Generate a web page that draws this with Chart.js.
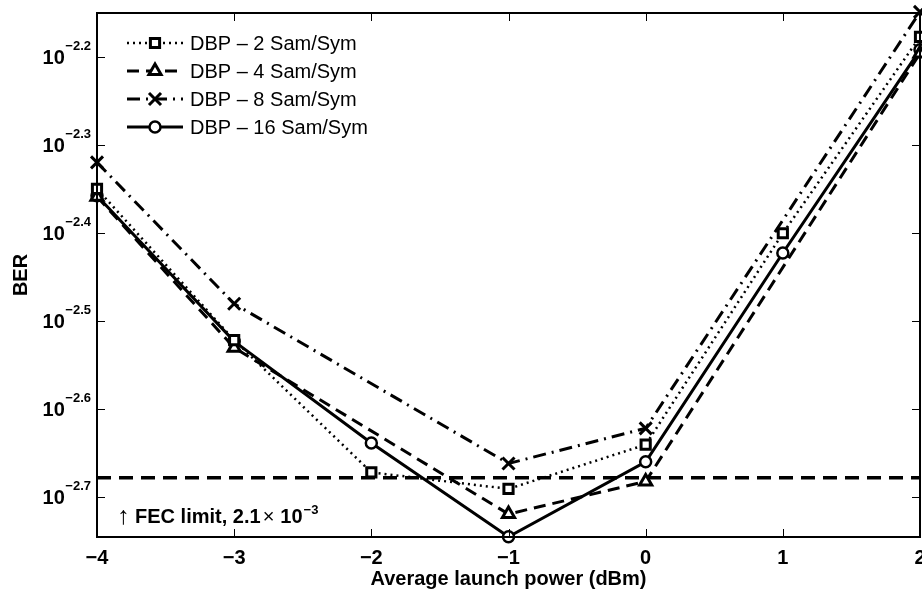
<!DOCTYPE html>
<html>
<head>
<meta charset="utf-8">
<script src="https://cdn.jsdelivr.net/npm/chart.js@4/dist/chart.umd.min.js"></script>
<style>
  body { margin: 0; background: #fff; }
  canvas { display: block; }
</style>
</head>
<body>
<canvas id="berChart" width="922" height="595"></canvas>
<script>
// launch power (dBm)
var powers = [-4, -3, -2, -1, 0, 1, 2];

// BER per DBP sampling rate (null = not measured)
var ber2Sam  = [4.47e-3, 3.01e-3, 2.13e-3, 2.04e-3, 2.29e-3, 3.98e-3, 6.65e-3];
var ber4Sam  = [4.38e-3, 2.95e-3, null,    1.91e-3, 2.08e-3, null,    6.37e-3];
var ber8Sam  = [4.79e-3, 3.31e-3, null,    2.18e-3, 2.39e-3, null,    7.10e-3];
var ber16Sam = [4.39e-3, 3.00e-3, 2.30e-3, 1.80e-3, 2.19e-3, 3.78e-3, 6.43e-3];

var seriesNames = ["DBP \u2013 2 Sam/Sym", "DBP \u2013 4 Sam/Sym", "DBP \u2013 8 Sam/Sym", "DBP \u2013 16 Sam/Sym"];

var fecLimit = 2.1e-3;

// axis ticks
var xTicks = [-4, -3, -2, -1, 0, 1, 2];
var yTickExps = [-2.2, -2.3, -2.4, -2.5, -2.6, -2.7];
var yMinExp = -2.745;
var yMaxExp = -2.15;

var BOLD = 'bold 20px "Liberation Sans", Arial, sans-serif';
var REG = '20px "Liberation Sans", Arial, sans-serif';
var SUP = 'bold 13px "Liberation Sans", Arial, sans-serif';

function toPoints(arr) {
	return powers.map(function(p, i){ return { x: p, y: arr[i] }; });
}

function lineSet(label, arr, style) {
	return Object.assign({
		label: label,
		data: toPoints(arr),
		borderColor: "#000",
		pointBorderColor: "#000",
		pointBackgroundColor: "#fff",
		spanGaps: true,
		clip: false,
		fill: false,
		tension: 0
	}, style);
}

var datasets = [
	lineSet(seriesNames[0], ber2Sam,  { borderWidth: 2.5, borderDash: [2, 4], pointStyle: "rect",     pointRadius: 6.5, pointBorderWidth: 3 }),
	lineSet(seriesNames[1], ber4Sam,  { borderWidth: 3, borderDash: [12, 7],  pointStyle: "triangle", pointRadius: 7,   pointBorderWidth: 3 }),
	lineSet(seriesNames[2], ber8Sam,  { borderWidth: 3, borderDash: [13, 6, 2, 6], pointStyle: "crossRot", pointRadius: 8.5, pointBorderWidth: 3 }),
	lineSet(seriesNames[3], ber16Sam, { borderWidth: 3, borderDash: [],       pointStyle: "circle",   pointRadius: 5.5, pointBorderWidth: 2.5 }),
	{
		label: "FEC",
		data: [{ x: powers[0], y: fecLimit }, { x: powers[powers.length - 1], y: fecLimit }],
		borderColor: "#000",
		borderWidth: 3.5,
		borderDash: [14, 8],
		pointRadius: 0,
		clip: false,
		fill: false
	}
];

// box, inward ticks, tick labels, titles, legend and the FEC note
var matlabAxes = {
	id: "matlabAxes",
	afterDatasetsDraw: function(chart) {
		var ctx = chart.ctx;
		var a = chart.chartArea;
		var xs = chart.scales.x;
		var ys = chart.scales.y;
		ctx.save();
		ctx.setLineDash([]);
		ctx.strokeStyle = "#000";
		ctx.fillStyle = "#000";

		// tick marks
		ctx.lineWidth = 1;
		ctx.beginPath();
		xTicks.forEach(function(t){
			var px = Math.round(xs.getPixelForValue(t)) + 0.5;
			ctx.moveTo(px, a.bottom); ctx.lineTo(px, a.bottom - 8);
			ctx.moveTo(px, a.top); ctx.lineTo(px, a.top + 8);
		});
		yTickExps.forEach(function(e){
			var py = Math.round(ys.getPixelForValue(Math.pow(10, e))) + 0.5;
			ctx.moveTo(a.left, py); ctx.lineTo(a.left + 8, py);
			ctx.moveTo(a.right, py); ctx.lineTo(a.right - 8, py);
		});
		ctx.stroke();

		// box
		ctx.lineWidth = 2;
		ctx.strokeRect(a.left, a.top, a.right - a.left, a.bottom - a.top);

		// x tick labels
		ctx.font = BOLD;
		ctx.textAlign = "center";
		ctx.textBaseline = "middle";
		xTicks.forEach(function(t){
			var s = t < 0 ? "\u2212" + Math.abs(t) : String(t);
			ctx.fillText(s, xs.getPixelForValue(t), 558);
		});

		// y tick labels as 10^exp
		yTickExps.forEach(function(e){
			var py = ys.getPixelForValue(Math.pow(10, e));
			var sup = "\u2212" + Math.abs(e).toFixed(1);
			ctx.textBaseline = "alphabetic";
			ctx.textAlign = "left";
			ctx.font = SUP;
			var w = ctx.measureText(sup).width;
			var sx = 91 - w;
			ctx.fillText(sup, sx, py - 7);
			ctx.font = BOLD;
			ctx.textAlign = "right";
			ctx.fillText("10", sx - 0.5, py + 7);
		});

		// axis titles
		ctx.font = BOLD;
		ctx.textAlign = "center";
		ctx.textBaseline = "middle";
		ctx.fillText("Average launch power (dBm)", (a.left + a.right) / 2, 579);
		ctx.save();
		ctx.translate(21, (a.top + a.bottom) / 2);
		ctx.rotate(-Math.PI / 2);
		ctx.fillText("BER", 0, 0);
		ctx.restore();

		// FEC note
		ctx.textAlign = "left";
		ctx.textBaseline = "alphabetic";
		var nx = 117, ny = 523;
		ctx.font = '25px "Liberation Sans", Arial, sans-serif';
		ctx.fillText("\u2191", nx, ny + 1);
		nx += ctx.measureText("\u2191").width;
		ctx.font = BOLD;
		ctx.fillText(" FEC limit, 2.1", nx, ny);
		nx += ctx.measureText(" FEC limit, 2.1").width;
		ctx.font = REG;
		ctx.fillText("\u00d7", nx + 2, ny);
		nx += ctx.measureText("\u00d7").width + 8;
		ctx.font = BOLD;
		ctx.fillText("10", nx, ny);
		nx += ctx.measureText("10").width + 1;
		ctx.font = SUP;
		ctx.fillText("\u22123", nx, ny - 9);

		// legend
		var rows = [43, 71, 99, 127];
		for (var i = 0; i < 4; i++) {
			var ds = chart.data.datasets[i];
			var y = rows[i];
			ctx.lineWidth = ds.borderWidth;
			ctx.setLineDash(ds.borderDash);
			ctx.lineCap = "butt";
			ctx.beginPath();
			ctx.moveTo(127, y);
			ctx.lineTo(183, y);
			ctx.stroke();
			ctx.setLineDash([]);
			ctx.fillStyle = "#fff";
			ctx.lineWidth = ds.pointBorderWidth;
			Chart.helpers.drawPoint(ctx, {
				pointStyle: ds.pointStyle,
				radius: ds.pointRadius,
				rotation: 0,
				borderWidth: ds.pointBorderWidth
			}, 155, y);
			ctx.fillStyle = "#000";
			ctx.font = REG;
			ctx.textAlign = "left";
			ctx.textBaseline = "middle";
			ctx.fillText(ds.label, 190, y + 1);
		}
		ctx.restore();
	}
};

var myChart = new Chart(document.getElementById("berChart"), {
	type: "line",
	data: { datasets: datasets },
	options: {
		responsive: false,
		animation: false,
		events: [],
		layout: { autoPadding: false, padding: { left: 97, right: 2, top: 13, bottom: 58 } },
		plugins: { legend: { display: false }, tooltip: { enabled: false } },
		scales: {
			x: { type: "linear", min: -4, max: 2, display: false },
			y: { type: "logarithmic", min: Math.pow(10, yMinExp), max: Math.pow(10, yMaxExp), display: false }
		}
	},
	plugins: [matlabAxes]
});
</script>
</body>
</html>
